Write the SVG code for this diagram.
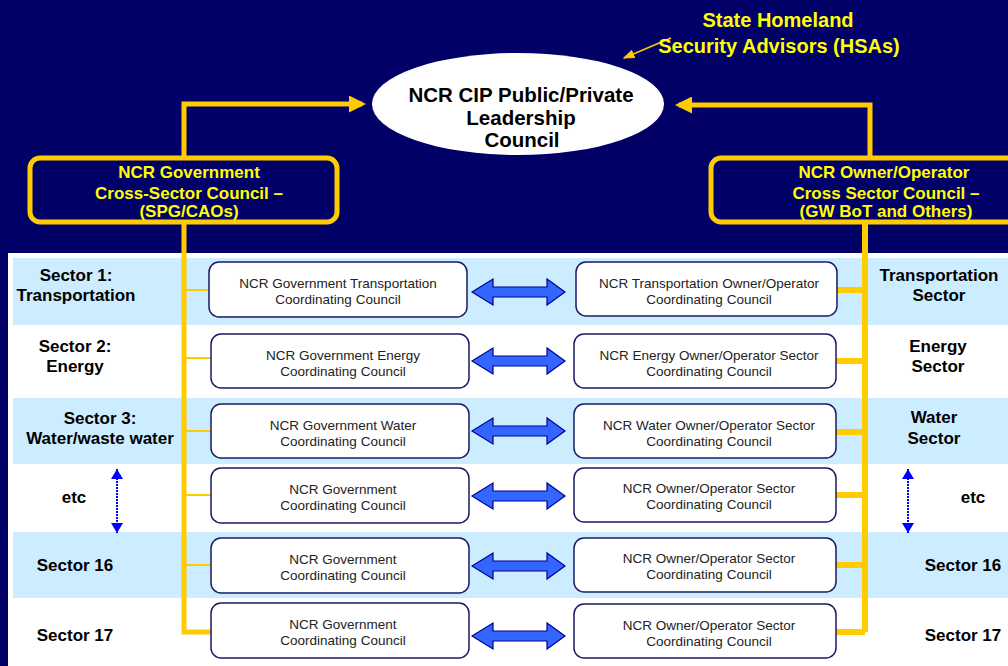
<svg xmlns="http://www.w3.org/2000/svg" width="1008" height="666" viewBox="0 0 1008 666">
<defs>
<style>
.bg{fill:#000066}
.band{fill:#CCECFF}
.lab{font-family:"Liberation Sans",Arial,sans-serif;font-weight:bold;font-size:17px;fill:#000;text-anchor:middle}
.ylab{font-family:"Liberation Sans",Arial,sans-serif;font-weight:bold;font-size:17px;fill:#FFFF00;text-anchor:middle}
.hsa{font-family:"Liberation Sans",Arial,sans-serif;font-weight:bold;font-size:20px;fill:#FFFF00;text-anchor:middle}
.elt{font-family:"Liberation Sans",Arial,sans-serif;font-weight:bold;font-size:20.5px;fill:#000;text-anchor:middle}
.box{fill:#fff;stroke:#1a1a66;stroke-width:1.5}
.bt{font-family:"Liberation Sans",Arial,sans-serif;font-size:13.5px;fill:#222;text-anchor:middle}
.council{fill:#000066;stroke:#FFCC00;stroke-width:5}
.y{stroke:#FFCC00;fill:none}
.thick{stroke-width:5}
.thin{stroke-width:2}
.barrow{fill:#3366FF;stroke:#000099;stroke-width:1.2}
.dot{stroke:#0000FF;stroke-width:2;stroke-dasharray:2 1}
</style>
<marker id="yhead" markerWidth="3.4" markerHeight="3.4" refX="2.6" refY="1.7" orient="auto" markerUnits="strokeWidth">
<path d="M0,0 L3.4,1.7 L0,3.4 z" fill="#FFCC00"/>
</marker>
<marker id="shead" markerWidth="8" markerHeight="6" refX="7" refY="3" orient="auto" markerUnits="strokeWidth">
<path d="M0,0 L8,3 L0,6 z" fill="#FFCC00"/>
</marker>
<marker id="bhead" markerWidth="5" markerHeight="6" refX="5" refY="3" orient="auto-start-reverse" markerUnits="strokeWidth">
<path d="M0,0 L5,3 L0,6 z" fill="#0000FF"/>
</marker>
<path id="dbl" d="M0,0 L21,-13 L21,-5 L75,-5 L75,-13 L93,0 L75,13 L75,5 L21,5 L21,13 z"/>
</defs>

<rect class="bg" x="0" y="0" width="1008" height="666"/>
<rect x="8" y="253" width="1000" height="413" fill="#fff"/>
<g id="bands">
<rect class="band" x="13" y="258" width="995" height="67"/>
<rect class="band" x="13" y="398" width="995" height="66"/>
<rect class="band" x="13" y="532" width="995" height="66"/>
</g>

<g id="connectors">
<path class="y thick" d="M184,157 L184,104 L362,104" marker-end="url(#yhead)"/>
<path class="y thick" d="M870,157 L870,105 L679,105" marker-end="url(#yhead)"/>
<path class="y thick" d="M184,224 L184,632 L211,632"/>
<path class="y thin" d="M184,290 L209,290 M184,358 L211,358 M184,431 L211,431 M184,495 L211,495 M184,565 L211,565"/>
<path class="y" stroke-width="6" d="M865,224 L865,632 M837,290 L865,290 M836,361 L865,361 M836,432 L865,432 M836,495 L865,495 M836,565 L865,565 M836,632 L865,632"/>
<path class="y" stroke-width="1.5" d="M671,38 L624,58" marker-end="url(#shead)"/>
<g class="barrow">
<use href="#dbl" x="472" y="292"/>
<use href="#dbl" x="472" y="361"/>
<use href="#dbl" x="472" y="431"/>
<use href="#dbl" x="472" y="496"/>
<use href="#dbl" x="472" y="566"/>
<use href="#dbl" x="472" y="636"/>
</g>
<path class="dot" d="M117,469 L117,533" marker-start="url(#bhead)" marker-end="url(#bhead)"/>
<path class="dot" d="M908,469 L908,533" marker-start="url(#bhead)" marker-end="url(#bhead)"/>
</g>

<g id="hsa">
<text class="hsa" x="778" y="27">State Homeland</text>
<text class="hsa" x="779" y="53">Security Advisors (HSAs)</text>
</g>

<g id="leadership">
<ellipse cx="518" cy="104" rx="146" ry="51" fill="#fff"/>
<text class="elt" x="521" y="102">NCR CIP Public/Private</text>
<text class="elt" x="521" y="125">Leadership</text>
<text class="elt" x="522" y="147">Council</text>
</g>

<g id="gov-council">
<rect class="council" x="30" y="158" width="307" height="64" rx="10"/>
<text class="ylab" x="189" y="178">NCR Government</text>
<text class="ylab" x="189" y="199">Cross-Sector Council –</text>
<text class="ylab" x="189" y="217">(SPG/CAOs)</text>
</g>

<g id="owner-council">
<rect class="council" x="711" y="158" width="320" height="64" rx="10"/>
<text class="ylab" x="884" y="178">NCR Owner/Operator</text>
<text class="ylab" x="886" y="199">Cross Sector Council –</text>
<text class="ylab" x="886" y="217">(GW BoT and Others)</text>
</g>

<g id="left-labels">
<text class="lab" x="76" y="281">Sector 1:</text>
<text class="lab" x="76" y="301">Transportation</text>
<text class="lab" x="75" y="352">Sector 2:</text>
<text class="lab" x="75" y="372">Energy</text>
<text class="lab" x="100" y="424">Sector 3:</text>
<text class="lab" x="100" y="444">Water/waste water</text>
<text class="lab" x="74" y="503" font-size="15">etc</text>
<text class="lab" x="75" y="571">Sector 16</text>
<text class="lab" x="75" y="641">Sector 17</text>
</g>

<g id="right-labels">
<text class="lab" x="939" y="281">Transportation</text>
<text class="lab" x="939" y="301">Sector</text>
<text class="lab" x="938" y="352">Energy</text>
<text class="lab" x="938" y="372">Sector</text>
<text class="lab" x="934" y="423">Water</text>
<text class="lab" x="934" y="444">Sector</text>
<text class="lab" x="973" y="503" font-size="15">etc</text>
<text class="lab" x="963" y="571">Sector 16</text>
<text class="lab" x="963" y="641">Sector 17</text>
</g>

<g id="gov-1"><rect class="box" x="209" y="262" width="258" height="55" rx="10"/><text class="bt" x="338" y="288">NCR Government Transportation</text><text class="bt" x="338" y="304">Coordinating Council</text></g>
<g id="gov-2"><rect class="box" x="211" y="334" width="258" height="54" rx="10"/><text class="bt" x="343" y="360">NCR Government Energy</text><text class="bt" x="343" y="376">Coordinating Council</text></g>
<g id="gov-3"><rect class="box" x="211" y="404" width="258" height="54" rx="10"/><text class="bt" x="343" y="430">NCR Government Water</text><text class="bt" x="343" y="446">Coordinating Council</text></g>
<g id="gov-4"><rect class="box" x="211" y="468" width="258" height="55" rx="10"/><text class="bt" x="343" y="494">NCR Government</text><text class="bt" x="343" y="510">Coordinating Council</text></g>
<g id="gov-5"><rect class="box" x="211" y="538" width="258" height="55" rx="10"/><text class="bt" x="343" y="564">NCR Government</text><text class="bt" x="343" y="580">Coordinating Council</text></g>
<g id="gov-6"><rect class="box" x="211" y="603" width="258" height="55" rx="10"/><text class="bt" x="343" y="629">NCR Government</text><text class="bt" x="343" y="645">Coordinating Council</text></g>

<g id="own-1"><rect class="box" x="576" y="262" width="261" height="54" rx="10"/><text class="bt" x="709" y="288">NCR Transportation Owner/Operator</text><text class="bt" x="709" y="304">Coordinating Council</text></g>
<g id="own-2"><rect class="box" x="574" y="334" width="262" height="54" rx="10"/><text class="bt" x="709" y="360">NCR Energy Owner/Operator Sector</text><text class="bt" x="709" y="376">Coordinating Council</text></g>
<g id="own-3"><rect class="box" x="574" y="404" width="262" height="54" rx="10"/><text class="bt" x="709" y="430">NCR Water Owner/Operator Sector</text><text class="bt" x="709" y="446">Coordinating Council</text></g>
<g id="own-4"><rect class="box" x="574" y="468" width="262" height="54" rx="10"/><text class="bt" x="709" y="493">NCR Owner/Operator Sector</text><text class="bt" x="709" y="509">Coordinating Council</text></g>
<g id="own-5"><rect class="box" x="574" y="538" width="262" height="54" rx="10"/><text class="bt" x="709" y="563">NCR Owner/Operator Sector</text><text class="bt" x="709" y="579">Coordinating Council</text></g>
<g id="own-6"><rect class="box" x="574" y="604" width="262" height="54" rx="10"/><text class="bt" x="709" y="630">NCR Owner/Operator Sector</text><text class="bt" x="709" y="646">Coordinating Council</text></g>
</svg>
